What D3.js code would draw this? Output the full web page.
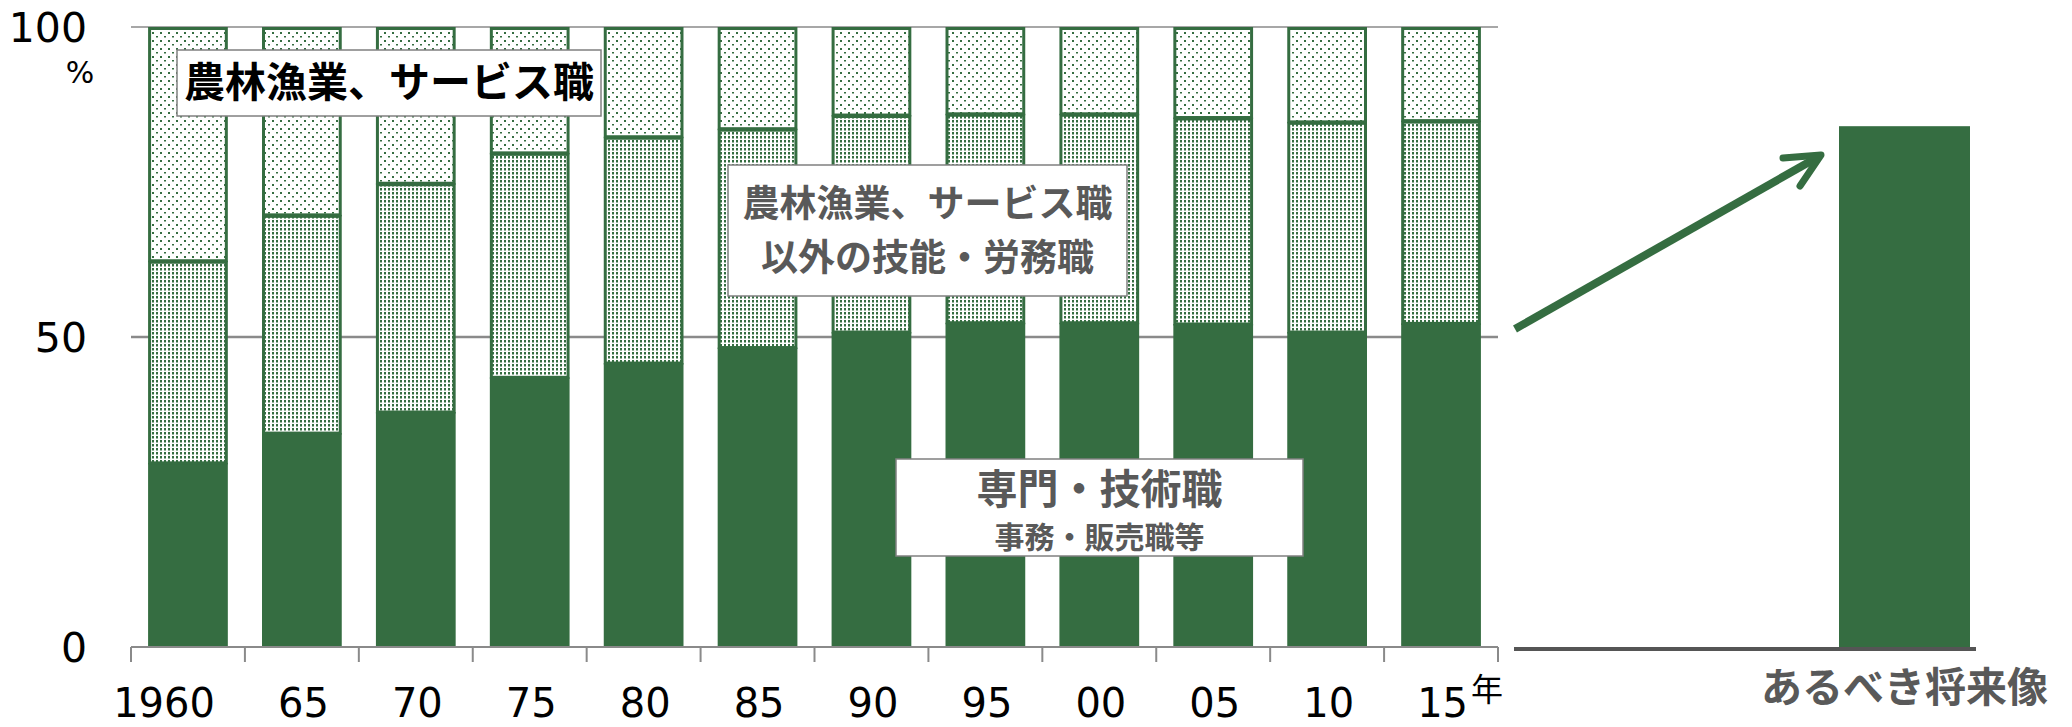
<!DOCTYPE html>
<html lang="ja">
<head>
<meta charset="utf-8">
<script src="https://cdn.jsdelivr.net/npm/d3@7"></script>
<style>
  html, body { margin: 0; padding: 0; background: #fff; }
  svg { display: block; }
</style>
</head>
<body>
<svg id="chart" width="2072" height="727"></svg>
<script>
// 職業別就業者構成比の推移（%）
const years = ["1960", "65", "70", "75", "80", "85", "90", "95", "00", "05", "10", "15"];
const seriesKeys = ["professional", "skilled", "primaryService"];
const professional   = [29.7, 34.5, 37.9, 43.5, 45.8, 48.3, 50.8, 52.3, 52.3, 52.1, 50.8, 52.2];
const skilled        = [32.6, 35.2, 36.9, 36.2, 36.5, 35.3, 35.0, 33.7, 33.7, 33.3, 33.9, 32.7];
const primaryService = [37.7, 30.3, 25.2, 20.3, 17.7, 16.4, 14.2, 14.0, 14.0, 14.6, 15.3, 15.1];
const yTicks = [0, 50, 100];

// 目指す姿
const futureLabel = ["あるべき将来像"];
const futureValue = [84];

const GREEN = "#356d41";
const GRID = "#8a8a8a";
const TEXT_GRAY = "#595959";

const margin = { left: 131, right: 1498, top: 27, bottom: 647 };

const svg = d3.select("#chart");

// ---- fill patterns ----
const defs = svg.append("defs");
const sparse = defs.append("pattern")
  .attr("id", "sparseDots").attr("patternUnits", "userSpaceOnUse")
  .attr("width", 8).attr("height", 8);
sparse.append("rect").attr("width", 8).attr("height", 8).attr("fill", "#fff");
sparse.append("rect").attr("x", 0).attr("y", 0).attr("width", 2).attr("height", 2).attr("fill", GREEN);
sparse.append("rect").attr("x", 4).attr("y", 4).attr("width", 2).attr("height", 1.5).attr("fill", GREEN);

const dense = defs.append("pattern")
  .attr("id", "denseDots").attr("patternUnits", "userSpaceOnUse")
  .attr("width", 4).attr("height", 4);
dense.append("rect").attr("width", 4).attr("height", 4).attr("fill", "#fff");
dense.append("rect").attr("x", 0).attr("y", 0).attr("width", 2).attr("height", 2.5).attr("fill", GREEN);

const fills = { professional: GREEN, skilled: "url(#denseDots)", primaryService: "url(#sparseDots)" };

// ---- scales ----
const x = d3.scaleBand().domain(years)
  .range([margin.left, margin.right])
  .paddingInner(0.3).paddingOuter(0.15);
const y = d3.scaleLinear().domain([0, 100]).range([margin.bottom, margin.top]);

// ---- gridlines ----
svg.append("g").selectAll("line")
  .data(yTicks.filter(d => d > 0))
  .join("line")
  .attr("x1", margin.left).attr("x2", margin.right)
  .attr("y1", d => y(d)).attr("y2", d => y(d))
  .attr("stroke", GRID)
  .attr("stroke-width", d => d === 100 ? 1.5 : 2.5);

// ---- stacked bars ----
const rows = years.map((yr, i) => ({
  year: yr,
  professional: professional[i],
  skilled: skilled[i],
  primaryService: primaryService[i]
}));
const stacked = d3.stack().keys(seriesKeys)(rows);

const sw = 3;
const layers = svg.append("g").selectAll("g")
  .data(stacked)
  .join("g");

layers.selectAll("rect")
  .data(layer => layer.map(d => ({ key: layer.key, d })))
  .join("rect")
  .attr("x", o => x(o.d.data.year) + (o.key === "professional" ? 0 : sw / 2))
  .attr("width", o => x.bandwidth() - (o.key === "professional" ? 0 : sw))
  .attr("y", o => y(o.d[1]) + (o.key === "professional" ? 0 : sw / 2))
  .attr("height", o => y(o.d[0]) - y(o.d[1]) - (o.key === "professional" ? 0 : sw / 2))
  .attr("fill", o => fills[o.key])
  .attr("stroke", o => o.key === "professional" ? "none" : GREEN)
  .attr("stroke-width", sw);

// ---- x axis ----
const axis = svg.append("g");
axis.append("line")
  .attr("x1", margin.left).attr("x2", margin.right)
  .attr("y1", margin.bottom).attr("y2", margin.bottom)
  .attr("stroke", GRID).attr("stroke-width", 2);
const tickPos = d3.range(years.length + 1).map(k => margin.left + k * x.step());
axis.selectAll("line.tick")
  .data(tickPos)
  .join("line")
  .attr("class", "tick")
  .attr("x1", d => d).attr("x2", d => d)
  .attr("y1", margin.bottom).attr("y2", margin.bottom + 15)
  .attr("stroke", GRID).attr("stroke-width", 2);

axis.selectAll("text.year")
  .data(years)
  .join("text")
  .attr("class", "year")
  .attr("x", d => x(d) + x.bandwidth() / 2 + 27)
  .attr("y", 717)
  .attr("text-anchor", "end")
  .attr("font-family", "DejaVu Sans, sans-serif")
  .attr("font-size", 40)
  .attr("fill", "#000")
  .text(d => d);

svg.append("text")
  .attr("x", 1487).attr("y", 701)
  .attr("text-anchor", "middle")
  .attr("font-family", "Noto Sans CJK JP, sans-serif")
  .attr("font-size", 32)
  .attr("fill", "#000")
  .text("年");

// ---- y axis labels ----
svg.append("g").selectAll("text")
  .data(yTicks)
  .join("text")
  .attr("x", 87)
  .attr("y", d => y(d))
  .attr("dy", "0.36em")
  .attr("text-anchor", "end")
  .attr("font-family", "DejaVu Sans, sans-serif")
  .attr("font-size", 41)
  .attr("fill", "#000")
  .text(d => d);

svg.append("text")
  .attr("x", 80).attr("y", 72)
  .attr("dy", "0.36em")
  .attr("text-anchor", "middle")
  .attr("font-family", "DejaVu Sans, sans-serif")
  .attr("font-size", 30)
  .attr("fill", "#000")
  .text("%");

// ---- series label boxes ----
function labelBox(x0, y0, x1, y1, lines) {
  const g = svg.append("g");
  g.append("rect")
    .attr("x", x0).attr("y", y0)
    .attr("width", x1 - x0).attr("height", y1 - y0)
    .attr("fill", "#fff")
    .attr("stroke", "#808080").attr("stroke-width", 1.5);
  lines.forEach(l => {
    g.append("text")
      .attr("x", (x0 + x1) / 2).attr("y", l.cy)
      .attr("dy", "0.35em")
      .attr("text-anchor", "middle")
      .attr("font-family", "Noto Sans CJK JP, sans-serif")
      .attr("font-weight", 700)
      .attr("font-size", l.size)
      .attr("fill", l.color)
      .text(l.text);
  });
}

labelBox(177, 50, 601, 116, [
  { text: "農林漁業、サービス職", cy: 83, size: 41, color: "#000" }
]);
labelBox(728, 165, 1127, 296, [
  { text: "農林漁業、サービス職", cy: 204, size: 37, color: TEXT_GRAY },
  { text: "以外の技能・労務職", cy: 258, size: 37, color: TEXT_GRAY }
]);
labelBox(896, 459, 1303, 556, [
  { text: "専門・技術職", cy: 490, size: 41, color: TEXT_GRAY },
  { text: "事務・販売職等", cy: 537, size: 30, color: TEXT_GRAY }
]);

// ---- future panel ----
const fx = d3.scaleBand().domain(futureLabel).range([1839, 1970]);
const future = svg.append("g");
future.selectAll("rect")
  .data(futureLabel.map((k, i) => ({ k, v: futureValue[i] })))
  .join("rect")
  .attr("x", d => fx(d.k))
  .attr("width", fx.bandwidth())
  .attr("y", d => y(d.v))
  .attr("height", d => y(0) - y(d.v))
  .attr("fill", GREEN);

future.append("line")
  .attr("x1", 1514).attr("x2", 1976)
  .attr("y1", 649).attr("y2", 649)
  .attr("stroke", "#555").attr("stroke-width", 4);

future.selectAll("text")
  .data(futureLabel)
  .join("text")
  .attr("x", d => fx(d) + fx.bandwidth() / 2)
  .attr("y", 688)
  .attr("dy", "0.35em")
  .attr("text-anchor", "middle")
  .attr("font-family", "Noto Sans CJK JP, sans-serif")
  .attr("font-weight", 700)
  .attr("font-size", 41)
  .attr("fill", TEXT_GRAY)
  .text(d => d);

// trend arrow
const arrow = svg.append("g")
  .attr("stroke", GREEN).attr("fill", "none")
  .attr("stroke-linecap", "round").attr("stroke-linejoin", "round");
arrow.append("line")
  .attr("x1", 1515).attr("y1", 329).attr("x2", 1818).attr("y2", 157)
  .attr("stroke-width", 8).attr("stroke-linecap", "butt");
arrow.append("path")
  .attr("d", "M1783,158 L1821,155 L1800,186")
  .attr("stroke-width", 7);
</script>
</body>
</html>
